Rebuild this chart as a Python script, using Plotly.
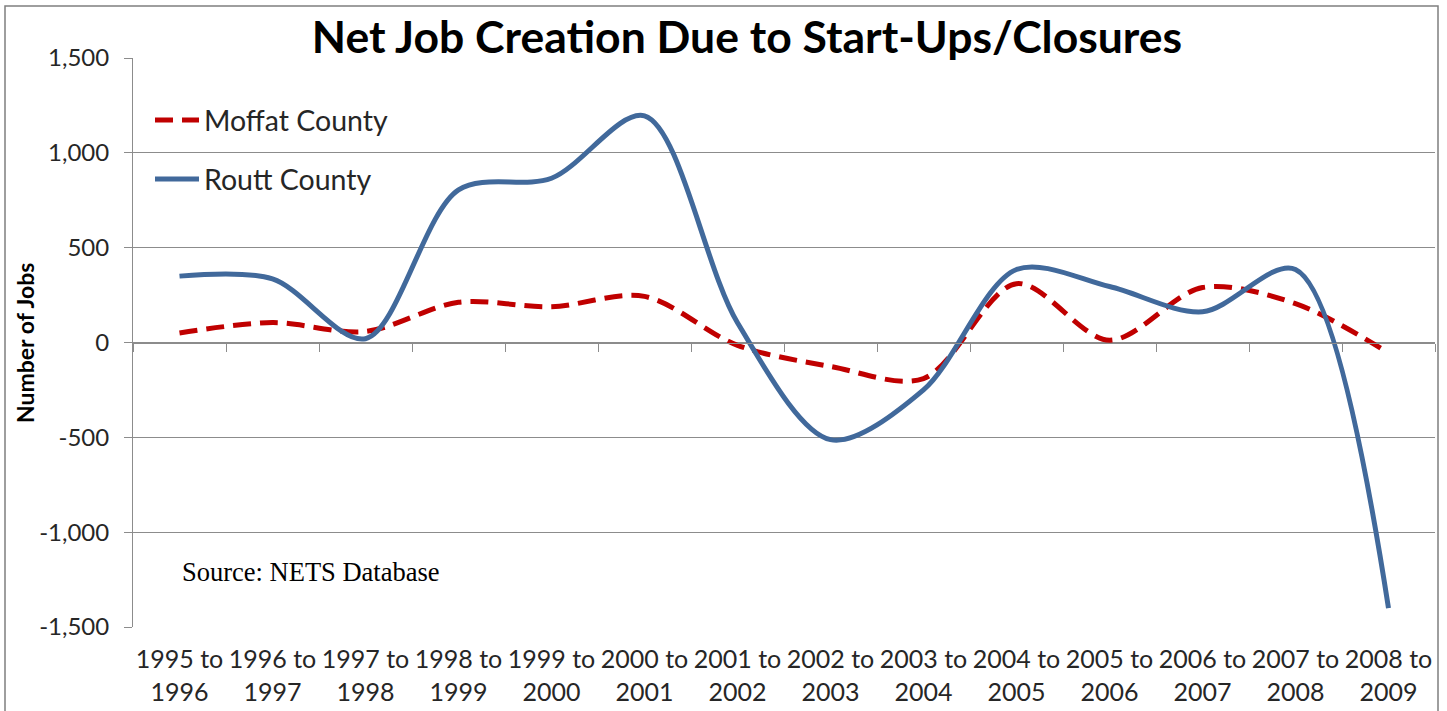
import plotly.graph_objects as go

# Category labels (two-line period labels)
periods = [
    "1995 to<br>1996", "1996 to<br>1997", "1997 to<br>1998", "1998 to<br>1999",
    "1999 to<br>2000", "2000 to<br>2001", "2001 to<br>2002", "2002 to<br>2003",
    "2003 to<br>2004", "2004 to<br>2005", "2005 to<br>2006", "2006 to<br>2007",
    "2007 to<br>2008", "2008 to<br>2009",
]

# Net jobs created by start-ups minus closures
moffat = [50, 105, 58, 212, 188, 243, -15, -126, -190, 310, 12, 290, 205, -55]
routt = [350, 335, 20, 805, 866, 1195, 104, -512, -250, 385, 295, 162, 385, -1400]

y_ticks = [1500, 1000, 500, 0, -500, -1000, -1500]
y_tick_text = ["1,500", "1,000", "500", "0", "-500", "-1,000", "-1,500"]

# Category boundary positions for the tick marks on the zero line
boundaries = [i - 0.5 for i in range(len(periods) + 1)]

W, H = 1447, 711
L, R, T, B = 133, 12, 58, 84
pw = W - L - R
ph = H - T - B

TXT = "#262626"
GRID = "#8c8c8c"

fig = go.Figure()

fig.add_trace(go.Scatter(
    x=periods, y=moffat, name="Moffat County", mode="lines",
    line=dict(color="#C00000", width=5, dash="18px,9px", shape="spline", smoothing=0.9),
    legendgroup="m",
))
fig.add_trace(go.Scatter(
    x=periods, y=routt, name="Routt County", mode="lines",
    line=dict(color="#41699B", width=5, shape="spline", smoothing=0.9),
    legendgroup="r",
))

fig.update_layout(
    width=W, height=H,
    margin=dict(l=L, r=R, t=T, b=B, autoexpand=False),
    paper_bgcolor="white", plot_bgcolor="white",
    font=dict(family="Lato, sans-serif", color=TXT),
    title=dict(
        text="<b>Net Job Creation Due to Start-Ups/Closures</b>",
        font=dict(family="Lato, sans-serif", size=44.5, color="black"),
        x=(747 - L) / pw, xref="paper", xanchor="center",
        y=1 - 37 / H, yref="container", yanchor="middle",
    ),
    showlegend=True,
    legend=dict(
        x=(150 - L) / pw, xanchor="left",
        y=(H - B - 95) / ph, yanchor="top",
        font=dict(size=28.5, color=TXT),
        bgcolor="rgba(0,0,0,0)",
        tracegroupgap=19,
        traceorder="grouped",
        itemwidth=44,
    ),
    xaxis=dict(
        type="category", range=[-0.5, len(periods) - 0.5],
        showgrid=False, showline=False, ticks="", zeroline=False,
        tickfont=dict(size=25, color=TXT),
        ticklabelstandoff=15,
        automargin=False,
    ),
    xaxis2=dict(
        overlaying="x", anchor="free", position=0.5, side="bottom",
        range=[-0.5, len(periods) - 0.5],
        tickmode="array", tickvals=boundaries, showticklabels=False,
        ticks="outside", ticklen=8, tickcolor=GRID, tickwidth=1,
        showline=True, linecolor=GRID, linewidth=1,
        showgrid=False, zeroline=False,
        automargin=False,
    ),
    yaxis=dict(
        range=[-1500, 1500],
        tickmode="array", tickvals=y_ticks, ticktext=y_tick_text,
        tickfont=dict(size=24, color=TXT),
        showgrid=True, gridcolor=GRID, gridwidth=1,
        zeroline=False,
        showline=True, linecolor=GRID, linewidth=1,
        ticks="outside", ticklen=8, tickcolor=GRID,
        ticklabelstandoff=10,
        automargin=False,
    ),
)

# invisible trace so the boundary axis is drawn
fig.add_trace(go.Scatter(
    x=[boundaries[0], boundaries[-1]], y=[0, 0], xaxis="x2", mode="lines",
    line=dict(width=0), showlegend=False, hoverinfo="skip",
))

# vertical axis title
fig.add_annotation(
    text="<b>Number of Jobs</b>", xref="paper", yref="paper",
    x=(25 - L) / pw, xanchor="center", y=(H - B - 343) / ph, yanchor="middle",
    textangle=-90, showarrow=False,
    font=dict(family="Lato, sans-serif", size=23, color="black"),
)

fig.add_annotation(
    text="Source: NETS Database", xref="paper", yref="paper",
    x=(180 - L) / pw, xanchor="left", y=(H - B - 572) / ph, yanchor="middle",
    showarrow=False,
    font=dict(family="Liberation Serif, Times New Roman, serif", size=26.5, color="black"),
)

# outer chart border
fig.add_shape(
    type="rect", xref="paper", yref="paper",
    x0=(5 - L) / pw, x1=(1438 - L) / pw,
    y0=(H - B - 730) / ph, y1=(H - B - 6) / ph,
    line=dict(color="#7f7f7f", width=1.5), fillcolor="rgba(0,0,0,0)", layer="below",
)

fig.write_html("out.html")
